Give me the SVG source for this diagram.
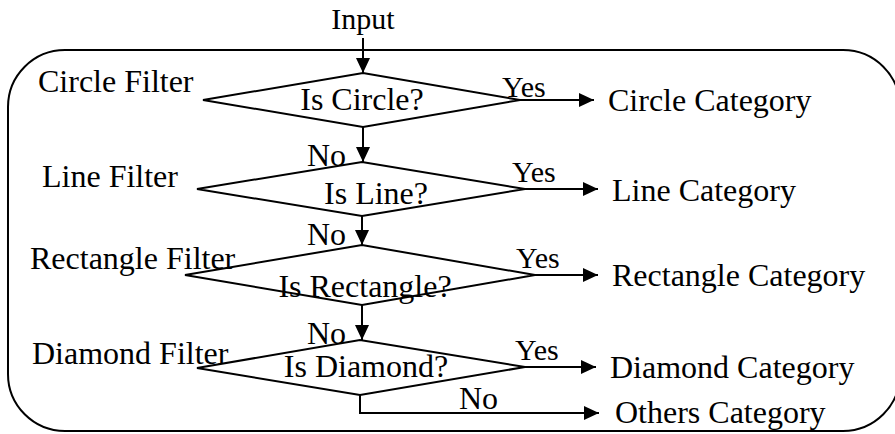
<svg xmlns="http://www.w3.org/2000/svg" width="895" height="434" viewBox="0 0 895 434">
<style>
  text { font-family: "Liberation Serif", "Times New Roman", serif; font-size: 32px; fill: #000; }
  .mid { text-anchor: middle; }
  .shape { fill: #fff; stroke: #000; stroke-width: 2; }
  .conn { fill: none; stroke: #000; stroke-width: 2; }
</style>
<defs>
  <marker id="arr" markerUnits="userSpaceOnUse" markerWidth="16" markerHeight="16" viewBox="0 0 16 16" refX="15" refY="8" orient="auto">
    <path d="M0,1 L15,8 L0,15 Z" fill="#000"/>
  </marker>
</defs>
<rect x="8" y="50" width="892" height="381" rx="57" ry="57" fill="none" stroke="#000" stroke-width="2"/>
<text class="mid" x="363" y="29" style="font-size:30px">Input</text>
<g id="circle-filter">
  <polygon class="shape" points="203,100 363,73 520,100 363,127"/>
  <text x="38" y="92">Circle Filter</text>
  <text class="mid" x="362" y="110">Is Circle?</text>
</g>
<g id="line-filter">
  <polygon class="shape" points="197,189 362,162 525,189 362,216"/>
  <text x="42" y="187">Line Filter</text>
  <text class="mid" x="376" y="204">Is Line?</text>
</g>
<g id="rectangle-filter">
  <polygon class="shape" points="185,275 362,245 535,275 362,305"/>
  <text x="30" y="269">Rectangle Filter</text>
  <text class="mid" x="365" y="297">Is Rectangle?</text>
</g>
<g id="diamond-filter">
  <polygon class="shape" points="197,368 360,340 525,367 360,395"/>
  <text x="32" y="364">Diamond Filter</text>
  <text class="mid" x="366" y="377">Is Diamond?</text>
</g>
<g id="circle-category"><text x="608" y="111">Circle Category</text></g>
<g id="line-category"><text x="612" y="201">Line Category</text></g>
<g id="rectangle-category"><text x="612" y="286">Rectangle Category</text></g>
<g id="diamond-category"><text x="610" y="378">Diamond Category</text></g>
<g id="others-category"><text x="615" y="423">Others Category</text></g>
<g id="connectors">
  <line class="conn" x1="363" y1="38" x2="363" y2="73" marker-end="url(#arr)"/>
  <line class="conn" x1="363" y1="127" x2="363" y2="162" marker-end="url(#arr)"/>
  <line class="conn" x1="362" y1="216" x2="362" y2="245" marker-end="url(#arr)"/>
  <line class="conn" x1="362" y1="305" x2="362" y2="340" marker-end="url(#arr)"/>
  <line class="conn" x1="520" y1="100" x2="594" y2="100" marker-end="url(#arr)"/>
  <line class="conn" x1="525" y1="189" x2="598" y2="189" marker-end="url(#arr)"/>
  <line class="conn" x1="535" y1="275" x2="598" y2="275" marker-end="url(#arr)"/>
  <line class="conn" x1="525" y1="367" x2="596" y2="367" marker-end="url(#arr)"/>
  <polyline class="conn" points="360,395 360,413 599,413" marker-end="url(#arr)"/>
  <text x="502" y="97" style="font-size:30px">Yes</text>
  <text x="512" y="182" style="font-size:30px">Yes</text>
  <text x="516" y="268" style="font-size:30px">Yes</text>
  <text x="515" y="360" style="font-size:30px">Yes</text>
  <text x="307" y="166">No</text>
  <text x="307" y="245">No</text>
  <text x="307" y="344">No</text>
  <text x="459" y="409">No</text>
</g>
</svg>
